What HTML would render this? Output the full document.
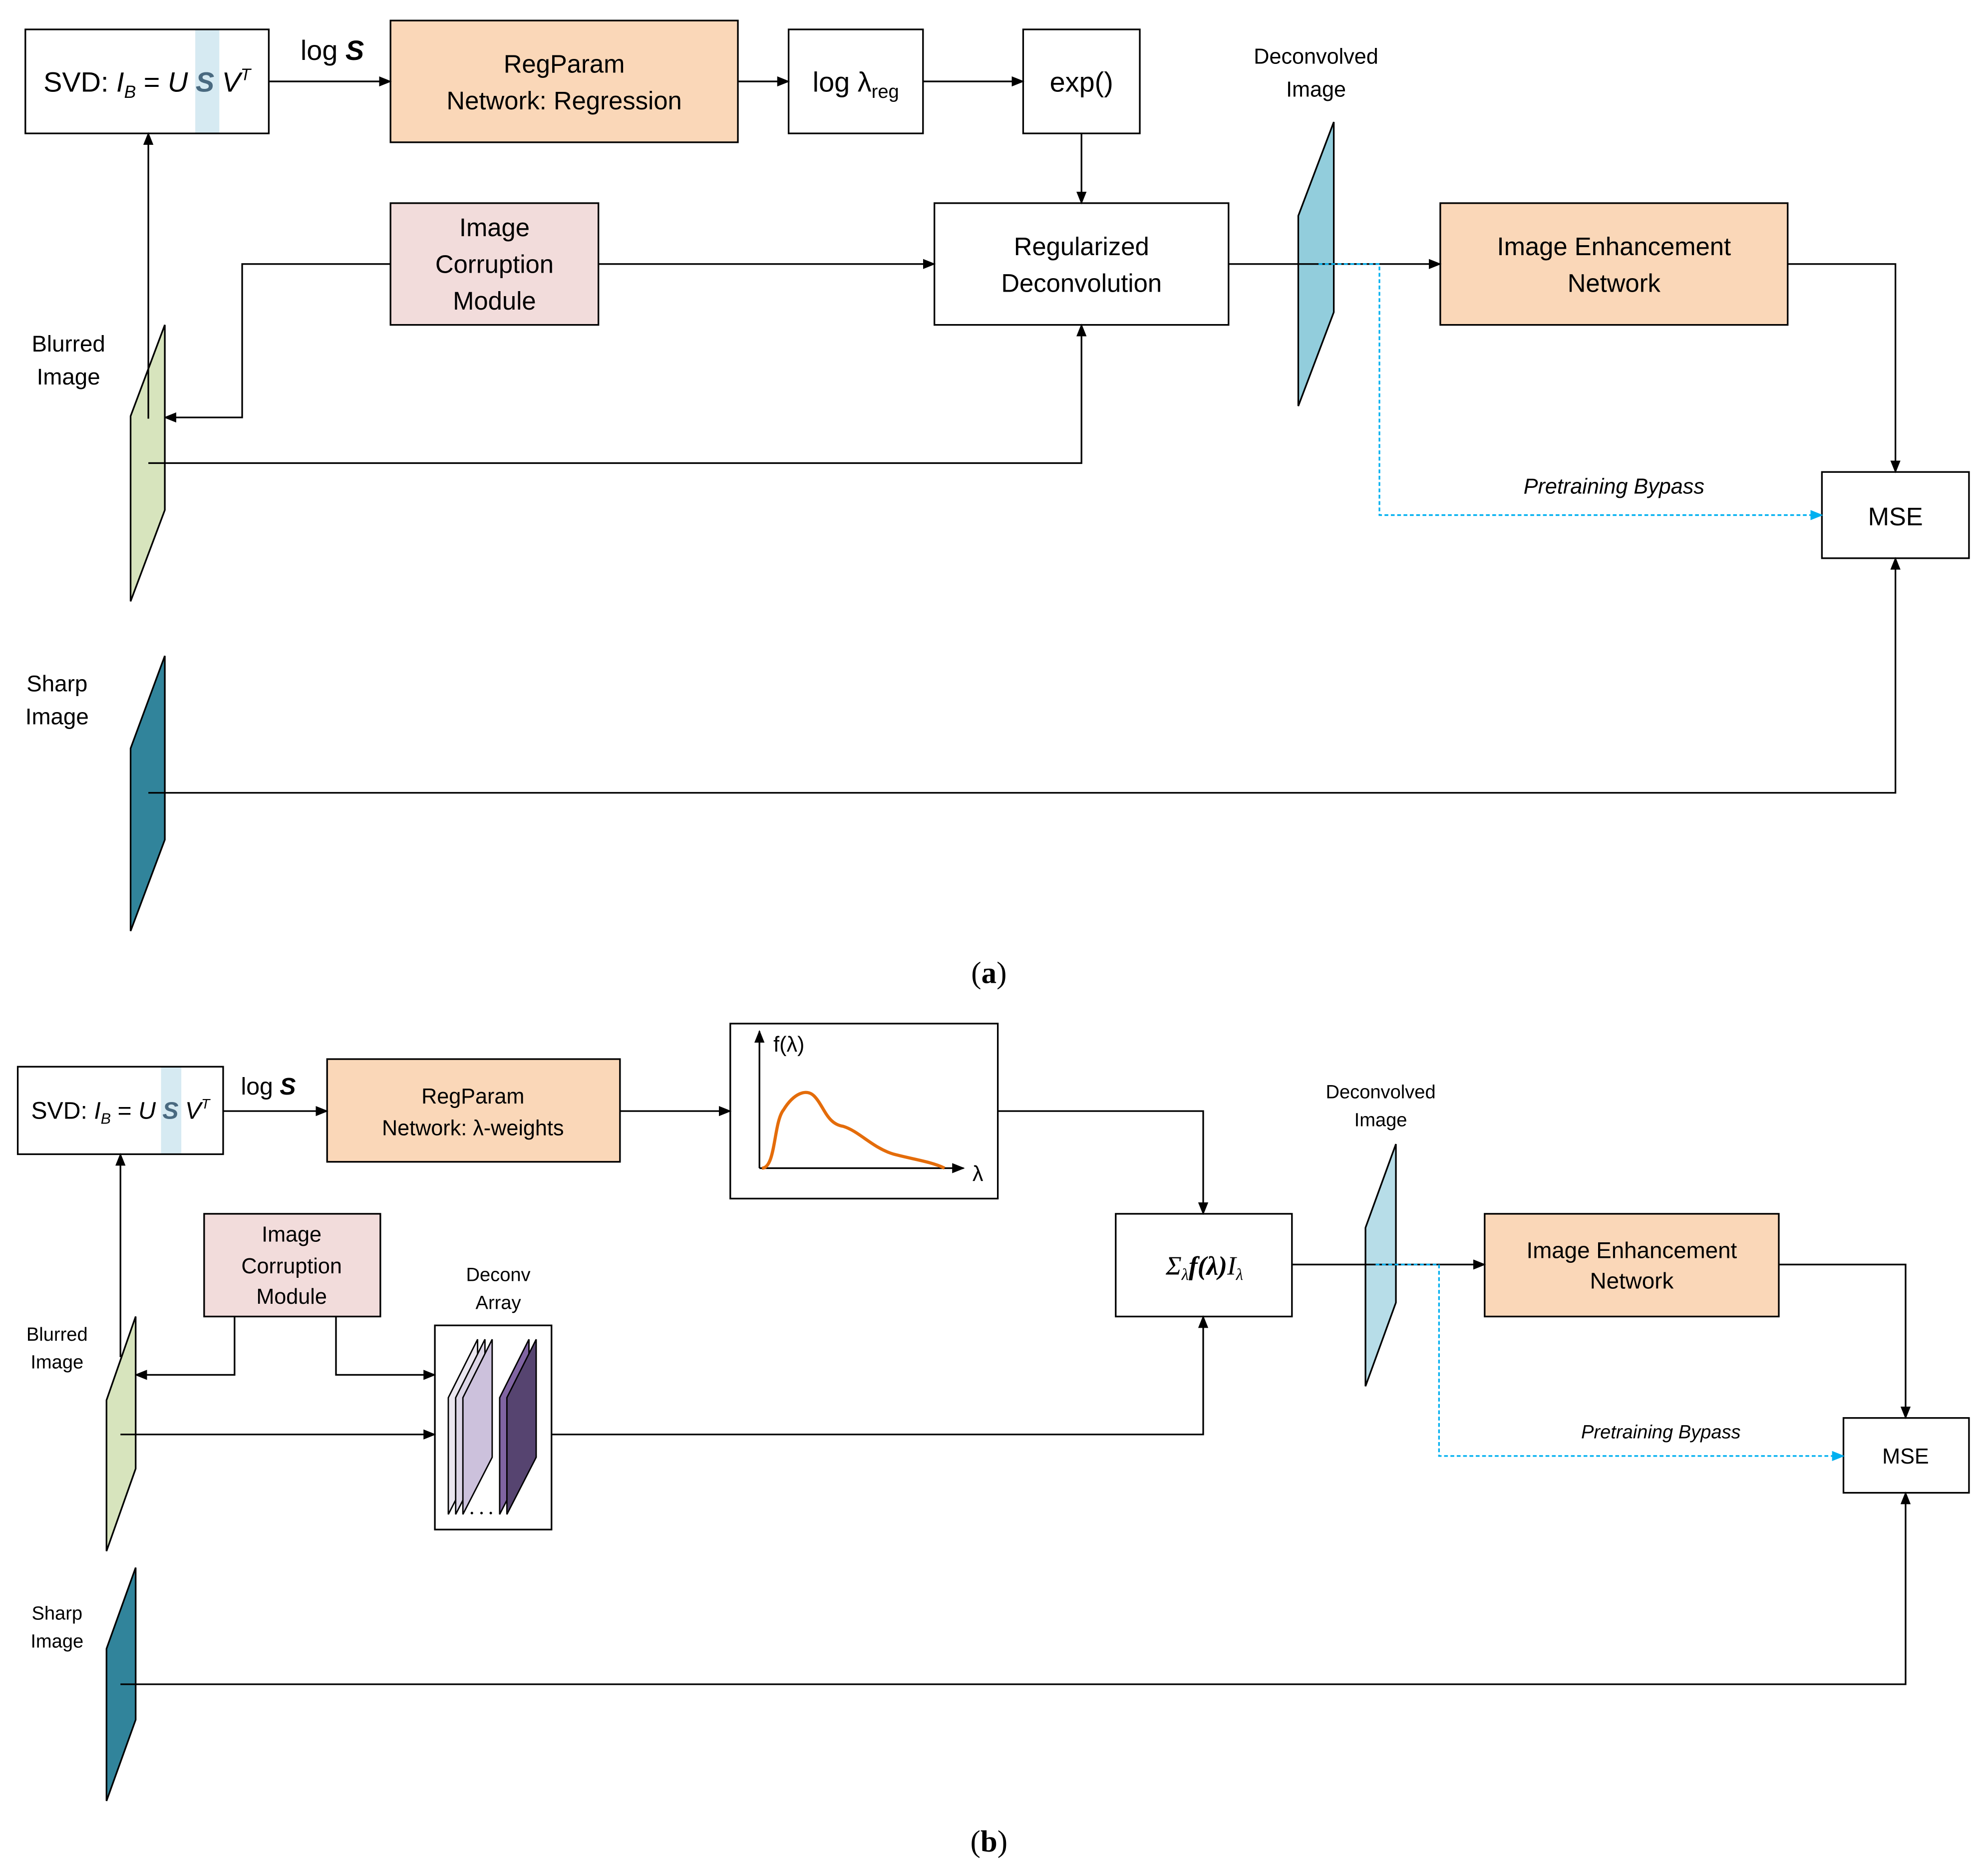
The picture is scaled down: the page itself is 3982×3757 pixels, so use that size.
<!DOCTYPE html>
<html><head><meta charset="utf-8"><style>
html,body{margin:0;padding:0;background:#fff;}
svg{display:block;}
text{font-family:"Liberation Sans",sans-serif;fill:#000;}
</style></head><body>
<svg width="3982" height="3757" viewBox="0 0 1568 1479" xmlns="http://www.w3.org/2000/svg">
<defs>
<marker id="a" markerWidth="10" markerHeight="8" refX="9" refY="4" orient="auto" markerUnits="userSpaceOnUse"><path d="M0,0 L10,4 L0,8 z" fill="#000"/></marker>
<marker id="ab" markerWidth="10" markerHeight="8" refX="9" refY="4" orient="auto" markerUnits="userSpaceOnUse"><path d="M0,0 L10,4 L0,8 z" fill="#00b0f0"/></marker>
</defs>
<g stroke="#000" stroke-width="1.3" fill="none">
<rect x="154" y="23" width="19" height="82" fill="#d6eaf2" stroke="none"/>
<rect x="20" y="23" width="192" height="82"/>
<rect x="308" y="16" width="274" height="96" fill="#fad7b8"/>
<rect x="622" y="23" width="106" height="82"/>
<rect x="807" y="23" width="92" height="82"/>
<rect x="737" y="160" width="232" height="96"/>
<rect x="308" y="160" width="164" height="96" fill="#f2dcdb"/>
<rect x="1136" y="160" width="274" height="96" fill="#fad7b8"/>
<rect x="1437" y="372" width="116" height="68"/>
<path d="M212,64H308" marker-end="url(#a)"/>
<path d="M582,64H622" marker-end="url(#a)"/>
<path d="M728,64H807" marker-end="url(#a)"/>
<path d="M853,105V160" marker-end="url(#a)"/>
<path d="M472,208H737" marker-end="url(#a)"/>
<path d="M308,208H191V329H130" marker-end="url(#a)"/>
<polygon points="103,328 130,256 130,402 103,474" fill="#d7e4bd"/>
<polygon points="1024,170 1052,96 1052,246 1024,320" fill="#92cddc"/>
<polygon points="103,590 130,517 130,662 103,734" fill="#31849b"/>
<path d="M117,330V105" marker-end="url(#a)"/>
<path d="M117,365H853V256" marker-end="url(#a)"/>
<path d="M969,208H1136" marker-end="url(#a)"/>
<path d="M1040,208H1088V406H1437" stroke="#00b0f0" stroke-dasharray="3,2" marker-end="url(#ab)"/>
<path d="M1410,208H1495V372" marker-end="url(#a)"/>
<path d="M117,625H1495V440" marker-end="url(#a)"/>
<rect x="127" y="841" width="16" height="69" fill="#d6eaf2" stroke="none"/>
<rect x="14" y="841" width="162" height="69"/>
<rect x="258" y="835" width="231" height="81" fill="#fad7b8"/>
<rect x="576" y="807" width="211" height="138"/>
<rect x="880" y="957" width="139" height="81"/>
<rect x="1171" y="957" width="232" height="81" fill="#fad7b8"/>
<rect x="1454" y="1118" width="99" height="59"/>
<rect x="161" y="957" width="139" height="81" fill="#f2dcdb"/>
<rect x="343" y="1045" width="92" height="161"/>
<path d="M599,921V813" marker-end="url(#a)"/>
<path d="M599,921H760" marker-end="url(#a)"/>
<path d="M601,921 C612,921 610,885 618,875 C626,862 636,858 642,864 C650,872 652,886 665,888 C678,892 688,905 705,910 C720,914 735,916 745,921" stroke="#e46c0a" stroke-width="2.5"/>
<path d="M176,876H258" marker-end="url(#a)"/>
<path d="M489,876H576" marker-end="url(#a)"/>
<path d="M787,876H949V957" marker-end="url(#a)"/>
<polygon points="1077,968 1101,902 1101,1027 1077,1093" fill="#b7dde8"/>
<path d="M1019,997H1171" marker-end="url(#a)"/>
<path d="M1085,997H1135V1148H1454" stroke="#00b0f0" stroke-dasharray="3,2" marker-end="url(#ab)"/>
<path d="M1403,997H1503V1118" marker-end="url(#a)"/>
<path d="M185,1038V1084H107" marker-end="url(#a)"/>
<path d="M265,1038V1084H343" marker-end="url(#a)"/>
<polygon points="84,1104 107,1038 107,1158 84,1223" fill="#d7e4bd"/>
<polygon points="84,1300 107,1236 107,1356 84,1420" fill="#31849b"/>
<path d="M95,1070V910" marker-end="url(#a)"/>
<path d="M95,1131H343" marker-end="url(#a)"/>
<path d="M435,1131H949V1038" marker-end="url(#a)"/>
<path d="M95,1328H1503V1177" marker-end="url(#a)"/>
<g stroke-width="1.1">
<polygon points="353.6,1102 376.7,1056 376.7,1149 353.6,1194" fill="#ebe7f0"/>
<polygon points="359.4,1102 382.5,1056 382.5,1149 359.4,1194" fill="#dcd5e6"/>
<polygon points="365.1,1102 388.2,1056 388.2,1149 365.1,1194" fill="#ccc1dc"/>
<polygon points="394.1,1102 417.2,1056 417.2,1149 394.1,1194" fill="#8064a2"/>
<polygon points="399.8,1102 422.9,1056 422.9,1149 399.8,1194" fill="#564470"/>
</g>
</g>
<g fill="#000"><circle cx="372.2" cy="1193" r="1"/><circle cx="379.8" cy="1193" r="1"/><circle cx="387.1" cy="1193" r="1"/></g>

<text x="116" y="72" font-size="22" text-anchor="middle">SVD: <tspan font-style="italic">I</tspan><tspan font-style="italic" font-size="14" dy="5">B</tspan><tspan dy="-5"> = </tspan><tspan font-style="italic">U </tspan><tspan font-weight="bold" font-style="italic" fill="#4a6a80">S</tspan><tspan font-style="italic"> V</tspan><tspan font-style="italic" font-size="13" dy="-9">T</tspan></text>
<text x="237" y="47" font-size="22">log <tspan font-weight="bold" font-style="italic">S</tspan></text>
<text x="445" y="57" font-size="20" text-anchor="middle">RegParam</text>
<text x="445" y="86" font-size="20" text-anchor="middle">Network: Regression</text>
<text x="675" y="72" font-size="22" text-anchor="middle">log λ<tspan font-size="15" dy="5">reg</tspan></text>
<text x="853" y="72" font-size="22" text-anchor="middle">exp()</text>
<text x="853" y="201" font-size="20" text-anchor="middle">Regularized</text>
<text x="853" y="230" font-size="20" text-anchor="middle">Deconvolution</text>
<text x="390" y="186" font-size="20" text-anchor="middle">Image</text>
<text x="390" y="215" font-size="20" text-anchor="middle">Corruption</text>
<text x="390" y="244" font-size="20" text-anchor="middle">Module</text>
<text x="1273" y="201" font-size="20" text-anchor="middle">Image Enhancement</text>
<text x="1273" y="230" font-size="20" text-anchor="middle">Network</text>
<text x="1495" y="414" font-size="20" text-anchor="middle">MSE</text>
<text x="1273" y="389" font-size="17" font-style="italic" text-anchor="middle">Pretraining Bypass</text>
<text x="1038" y="50" font-size="17" text-anchor="middle">Deconvolved</text>
<text x="1038" y="76" font-size="17" text-anchor="middle">Image</text>
<text x="54" y="277" font-size="18" text-anchor="middle">Blurred</text>
<text x="54" y="303" font-size="18" text-anchor="middle">Image</text>
<text x="45" y="545" font-size="18" text-anchor="middle">Sharp</text>
<text x="45" y="571" font-size="18" text-anchor="middle">Image</text>
<text x="780" y="775" font-size="24" text-anchor="middle" style="font-family:'Liberation Serif',serif">(<tspan font-weight="bold">a</tspan>)</text>

<text x="95" y="882" font-size="19" text-anchor="middle">SVD: <tspan font-style="italic">I</tspan><tspan font-style="italic" font-size="12" dy="4">B</tspan><tspan dy="-4"> = </tspan><tspan font-style="italic">U </tspan><tspan font-weight="bold" font-style="italic" fill="#4a6a80">S</tspan><tspan font-style="italic"> V</tspan><tspan font-style="italic" font-size="11" dy="-8">T</tspan></text>
<text x="190" y="863" font-size="19">log <tspan font-weight="bold" font-style="italic">S</tspan></text>
<text x="373" y="870" font-size="17" text-anchor="middle">RegParam</text>
<text x="373" y="895" font-size="17" text-anchor="middle">Network:  λ-weights</text>
<text x="610" y="829" font-size="17">f(λ)</text>
<text x="767" y="931" font-size="17">λ</text>
<text x="950" y="1005" font-size="21" font-style="italic" text-anchor="middle" style="font-family:'Liberation Serif',serif">Σ<tspan font-size="13" dy="4">λ</tspan><tspan dy="-4" font-weight="bold">f(λ)</tspan>I<tspan font-size="13" dy="4">λ</tspan></text>
<text x="1287" y="992" font-size="18" text-anchor="middle">Image Enhancement</text>
<text x="1287" y="1016" font-size="18" text-anchor="middle">Network</text>
<text x="1503" y="1154" font-size="17" text-anchor="middle">MSE</text>
<text x="1310" y="1134" font-size="15" font-style="italic" text-anchor="middle">Pretraining Bypass</text>
<text x="1089" y="866" font-size="15" text-anchor="middle">Deconvolved</text>
<text x="1089" y="888" font-size="15" text-anchor="middle">Image</text>
<text x="230" y="979" font-size="17" text-anchor="middle">Image</text>
<text x="230" y="1004" font-size="17" text-anchor="middle">Corruption</text>
<text x="230" y="1028" font-size="17" text-anchor="middle">Module</text>
<text x="393" y="1010" font-size="15" text-anchor="middle">Deconv</text>
<text x="393" y="1032" font-size="15" text-anchor="middle">Array</text>
<text x="45" y="1057" font-size="15" text-anchor="middle">Blurred</text>
<text x="45" y="1079" font-size="15" text-anchor="middle">Image</text>
<text x="45" y="1277" font-size="15" text-anchor="middle">Sharp</text>
<text x="45" y="1299" font-size="15" text-anchor="middle">Image</text>
<text x="780" y="1460" font-size="24" text-anchor="middle" style="font-family:'Liberation Serif',serif">(<tspan font-weight="bold">b</tspan>)</text>
</svg>
</body></html>
